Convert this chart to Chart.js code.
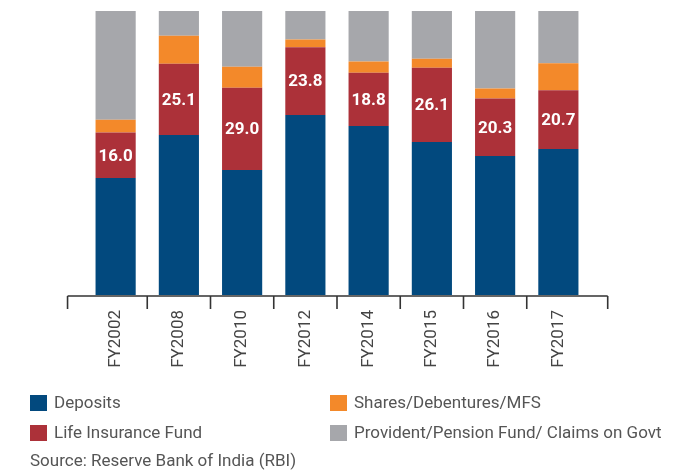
<!DOCTYPE html>
<html>
<head>
<meta charset="utf-8">
<script src="https://cdn.jsdelivr.net/npm/chart.js@4"></script>
<style>
  body { margin: 0; background: #fff; }
  #wrap { position: relative; width: 688px; height: 470px; }
  #chart { position: absolute; left: 0; top: 0; }
  .lg { position: absolute; font-family: Roboto, "Liberation Sans", sans-serif;
        font-size: 17px; color: #555; white-space: nowrap; line-height: 20px; }
  .sw { display: inline-block; width: 17px; height: 16px; vertical-align: -3px; margin-right: 7px; }
</style>
</head>
<body>
<div id="wrap">
  <canvas id="chart" width="688" height="470"></canvas>
  <div id="legend"></div>
  <div class="lg" style="left:30px; top:450px;">Source: Reserve Bank of India (RBI)</div>
</div>
<script>
// Chart data (share of household financial savings, %)

const years = ['FY2002', 'FY2008', 'FY2010', 'FY2012', 'FY2014', 'FY2015', 'FY2016', 'FY2017'];

const deposits = [41.2, 56.3, 44.0, 63.4, 59.5, 53.9, 48.9, 51.4];
const lifeInsurance = [16.0, 25.1, 29.0, 23.8, 18.8, 26.1, 20.3, 20.7];
const shares = [4.5, 9.9, 7.4, 2.8, 3.9, 3.2, 3.5, 9.5];
const provident = [38.3, 8.7, 19.6, 10.0, 17.8, 16.8, 27.3, 18.4];

const FONT = 'Roboto, "Liberation Sans", sans-serif';

// axis line with tick marks at category boundaries
const axisPlugin = {
  id: 'axisLine',
  afterDraw(chart) {
    const x = chart.scales.x;
    const y = chart.chartArea.bottom + 1;
    const n = chart.data.labels.length;
    const step = x.getPixelForValue(1) - x.getPixelForValue(0);
    const ticks = [x.getPixelForValue(0) - step * 0.76];
    for (let i = 0; i < n - 1; i++) ticks.push(x.getPixelForValue(i) + step / 2);
    ticks.push(x.getPixelForValue(n - 1) + step * 0.78);
    const c = chart.ctx;
    c.save();
    c.strokeStyle = '#333';
    c.lineWidth = 1.6;
    c.beginPath();
    c.moveTo(ticks[0], y);
    c.lineTo(ticks[ticks.length - 1], y);
    ticks.forEach(t => { c.moveTo(t, y); c.lineTo(t, y + 13); });
    c.stroke();
    c.restore();
  }
};

// values inside the life insurance segment
const valuePlugin = {
  id: 'values',
  afterDatasetsDraw(chart) {
    const meta = chart.getDatasetMeta(1);
    const c = chart.ctx;
    c.save();
    c.fillStyle = '#fff';
    c.font = 'bold 17px ' + FONT;
    c.textAlign = 'center';
    c.textBaseline = 'middle';
    meta.data.forEach((bar, i) => {
      c.fillText(lifeInsurance[i].toFixed(1), bar.x, (bar.y + bar.base) / 2 + 1);
    });
    c.restore();
  }
};

const ctx = document.getElementById('chart').getContext('2d');

const chart = new Chart(ctx, {
  type: 'bar',
  data: {
    labels: years,
    datasets: [
      { label: 'Deposits', data: deposits, backgroundColor: '#02497e' },
      { label: 'Life Insurance Fund', data: lifeInsurance, backgroundColor: '#ac3139' },
      { label: 'Shares/Debentures/MFS', data: shares, backgroundColor: '#f3892a' },
      { label: 'Provident/Pension Fund/ Claims on Govt', data: provident, backgroundColor: '#a6a7ab' }
    ]
  },
  options: {
    responsive: false,
    animation: false,
    layout: { padding: { left: 84, right: 98, top: 11, bottom: 0 } },
    datasets: { bar: { barPercentage: 0.635, categoryPercentage: 1 } },
    scales: {
      x: {
        stacked: true,
        grid: { display: false },
        border: { display: false },
        ticks: {
          minRotation: 90, maxRotation: 90, padding: 7,
          color: '#444', font: { family: FONT, size: 17 }
        },
        afterFit: s => { s.height = 175; }
      },
      y: { stacked: true, min: 0, max: 100, display: false }
    },
    plugins: { legend: { display: false }, tooltip: { enabled: false } }
  },
  plugins: [axisPlugin, valuePlugin]
});

// two-column legend: Deposits / Shares on first row, Life / Provident on second
const legend = document.getElementById('legend');
const order = [0, 2, 1, 3];
order.forEach((d, k) => {
  const ds = chart.data.datasets[d];
  const el = document.createElement('div');
  el.className = 'lg';
  el.style.left = (k % 2 === 0 ? 30 : 330) + 'px';
  el.style.top = (k < 2 ? 392 : 422) + 'px';
  el.innerHTML = '<span class="sw" style="background:' + ds.backgroundColor + '"></span>' + ds.label;
  legend.appendChild(el);
});
</script>
</body>
</html>
